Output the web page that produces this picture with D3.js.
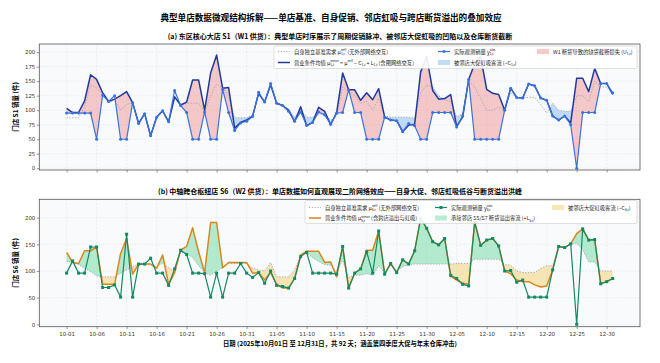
<!DOCTYPE html>
<meta charset="utf-8" />
<script src="https://d3js.org/d3.v7.min.js"></script>
<style>
  body { margin: 0; background: #fff; }
  text { font-family: "Noto Sans CJK SC", "DejaVu Sans", sans-serif; }
</style>
<div id="chart"></div>
<script>
  // ---- data ----
  const startDate = new Date(2025, 9, 1);
  const nDays = 92;

  // store S1
  const s1Self = [87, 87, 87, 106, 144, 138, 128, 114, 118, 100, 110, 113, 77, 94, 56, 88, 99, 80, 120, 108,
    112, 112, 112, 97, 125, 145, 138, 125, 87, 87, 87, 92, 128, 114, 143, 112, 108, 100, 88, 100,
    88, 88, 92, 95, 82, 90, 140, 133, 125, 112, 115, 100, 120, 90, 88, 88, 88, 88, 86, 130,
    143, 140, 125, 118, 115, 88, 95, 150, 140, 120, 100, 100, 105, 100, 130, 122, 122, 122, 122, 110,
    95, 112, 100, 98, 98, 125, 125, 115, 150, 140, 140, 128];
  const s1Mean = [103, 96, 96, 116, 161, 153, 130, 115, 119, 125, 132, 113, 77, 94, 56, 88, 99, 80, 123, 109,
    114, 152, 152, 100, 164, 195, 138, 139, 69, 79, 83, 90, 129, 114, 144, 112, 108, 100, 80, 106,
    73, 79, 105, 98, 75, 96, 164, 135, 135, 117, 130, 118, 137, 88, 83, 82, 63, 74, 76, 166,
    192, 134, 119, 120, 127, 72, 88, 153, 180, 192, 136, 129, 127, 100, 138, 122, 121, 145, 142, 121,
    117, 90, 83, 90, 78, 155, 155, 132, 172, 146, 146, 127];
  const s1Obs = [95, 95, 95, 95, 95, 50, 126, 115, 125, 50, 50, 113, 77, 94, 56, 88, 99, 80, 134, 108,
    96, 50, 50, 97, 50, 50, 136, 96, 65, 78, 81, 89, 131, 114, 146, 112, 108, 98, 81, 97,
    74, 79, 97, 92, 76, 95, 96, 135, 96, 96, 50, 50, 50, 88, 83, 82, 63, 77, 73, 50,
    50, 96, 96, 96, 96, 71, 90, 153, 50, 50, 50, 50, 50, 100, 138, 122, 121, 145, 142, 121,
    117, 90, 83, 90, 75, 0, 96, 96, 96, 146, 146, 130];

  // store S6
  const s6Self = [118, 116, 112, 105, 99, 91, 89, 89, 89, 96, 102, 108, 113, 113, 113, 108, 115, 106, 100, 135,
    133, 125, 110, 97, 92, 100, 106, 114, 114, 114, 114, 105, 102, 100, 116, 89, 89, 89, 102, 128,
    134, 125, 118, 112, 111, 100, 120, 88, 92, 92, 95, 92, 110, 96, 112, 100, 108, 112, 113, 113,
    113, 113, 113, 113, 113, 114, 114, 114, 122, 122, 122, 122, 122, 112, 111, 100, 97, 97, 97, 105,
    110, 110, 146, 144, 151, 152, 140, 117, 117, 100, 100, 100];
  const s6Mean = [135, 116, 114, 138, 138, 145, 75, 75, 75, 133, 161, 94, 113, 113, 113, 105, 130, 75, 97, 139,
    146, 181, 136, 97, 191, 191, 106, 116, 116, 116, 116, 96, 97, 83, 97, 75, 68, 68, 86, 130,
    137, 137, 137, 116, 117, 89, 146, 68, 96, 104, 139, 139, 175, 94, 114, 97, 121, 113, 138, 199,
    180, 155, 149, 161, 90, 83, 77, 75, 192, 148, 158, 161, 147, 100, 95, 83, 80, 80, 74, 70,
    72, 102, 146, 144, 151, 170, 179, 158, 159, 76, 80, 86];
  const s6Obs = [96, 119, 96, 96, 145, 145, 69, 69, 74, 51, 169, 51, 113, 113, 124, 96, 96, 73, 104, 139,
    131, 96, 96, 95, 51, 96, 51, 96, 96, 114, 96, 88, 97, 77, 100, 73, 71, 68, 86, 127,
    135, 96, 96, 96, 96, 94, 146, 68, 96, 104, 136, 96, 175, 94, 114, 97, 121, 113, 138, 199,
    180, 155, 149, 161, 92, 86, 75, 72, 192, 148, 158, 161, 147, 100, 101, 79, 83, 51, 51, 51,
    51, 102, 146, 144, 151, 0, 179, 158, 159, 76, 80, 86];

  const dates = d3.range(nDays).map((i) => d3.timeDay.offset(startDate, i));
  const tickIdx = d3.range(0, nDays, 5);
  const fmt = d3.timeFormat("%m-%d");

  const width = 660;
  const height = 363;
  const left = 39.3;
  const right = 640;

  const svg = d3.select("#chart").append("svg").attr("width", width).attr("height", height);

  const x = d3.scaleLinear().domain([-4.55, nDays - 1 + 4.55]).range([left, right]);

  // main title
  svg.append("text")
    .attr("x", 331).attr("y", 21)
    .attr("text-anchor", "middle")
    .style("font-size", "8.6px").style("font-weight", "bold")
    .text("典型单店数据微观结构拆解——单店基准、自身促销、邻店虹吸与跨店断货溢出的叠加效应");

  // builds points where top > bottom, adding the crossing points
  function fillPoints(top, bottom) {
    const pts = [];
    for (let i = 0; i < top.length; i++) {
      pts.push({ i: i, a: top[i], b: bottom[i] });
      if (i < top.length - 1) {
        const d0 = top[i] - bottom[i];
        const d1 = top[i + 1] - bottom[i + 1];
        if (d0 * d1 < 0) {
          const t = d0 / (d0 - d1);
          const v = bottom[i] + t * (bottom[i + 1] - bottom[i]);
          pts.push({ i: i + t, a: v, b: v });
        }
      }
    }
    return pts;
  }

  // text with math pieces: [str] plain, [str,"sub"], [str,"sup"], [sup,"stack",sub]
  function richText(g, xx, yy, parts, size) {
    const t = g.append("text").attr("x", xx).attr("y", yy)
      .style("font-size", size + "px").attr("fill", "#222");
    const small = size * 0.62 + "px";
    let shift = 0;
    let pendingDx = 0;
    parts.forEach((p) => {
      const mode = p[1];
      if (mode === "stack") {
        const a = t.append("tspan").text(p[0]).style("font-size", small)
          .attr("dy", -2.3 - shift).attr("dx", pendingDx);
        const la = a.node().getComputedTextLength();
        const b = t.append("tspan").text(p[2]).style("font-size", small)
          .attr("dy", 4.2).attr("dx", -la);
        const lb = b.node().getComputedTextLength();
        shift = 1.9;
        pendingDx = Math.max(0, la - lb);
        return;
      }
      const target = mode === "sup" ? -2.3 : mode === "sub" ? 1.9 : 0;
      const s = t.append("tspan").text(p[0]).attr("dy", target - shift).attr("dx", pendingDx);
      if (mode) s.style("font-size", small);
      shift = target;
      pendingDx = 0;
    });
    return t;
  }

  function drawPanel(cfg) {
    const y = d3.scaleLinear().domain(cfg.yDomain).range([cfg.bottom, cfg.top]);
    const g = svg.append("g");

    // subtitle
    g.append("text")
      .attr("x", 340).attr("y", cfg.top - 5.5)
      .attr("text-anchor", "middle")
      .style("font-size", "7px").style("font-weight", "bold")
      .text(cfg.subtitle);

    g.append("rect")
      .attr("x", left).attr("y", cfg.top)
      .attr("width", right - left).attr("height", cfg.bottom - cfg.top)
      .attr("fill", "#f8fafc");

    const clipId = "clip" + cfg.key;
    g.append("clipPath").attr("id", clipId).append("rect")
      .attr("x", left).attr("y", cfg.top)
      .attr("width", right - left).attr("height", cfg.bottom - cfg.top);

    // grid
    g.append("g").selectAll("line").data(cfg.yTicks).join("line")
      .attr("x1", left).attr("x2", right)
      .attr("y1", (d) => y(d)).attr("y2", (d) => y(d))
      .attr("stroke", "#dde2e8").attr("stroke-width", 0.5).attr("stroke-dasharray", "2,1.5");
    g.append("g").selectAll("line").data(tickIdx).join("line")
      .attr("x1", (d) => x(d)).attr("x2", (d) => x(d))
      .attr("y1", cfg.top).attr("y2", cfg.bottom)
      .attr("stroke", "#dde2e8").attr("stroke-width", 0.5).attr("stroke-dasharray", "2,1.5");

    const plot = g.append("g").attr("clip-path", "url(#" + clipId + ")");

    const area = d3.area()
      .x((p) => x(p.i))
      .y0((p) => y(p.b))
      .y1((p) => y(Math.max(p.a, p.b)));

    cfg.fills.forEach((f) => {
      plot.append("path")
        .datum(fillPoints(f.top, f.bottom))
        .attr("d", area)
        .attr("fill", f.color)
        .attr("fill-opacity", f.opacity);
    });

    const line = d3.line().x((d, i) => x(i)).y((d) => y(d));

    plot.append("path").datum(cfg.self).attr("d", line)
      .attr("fill", "none").attr("stroke", "#9aa3ad").attr("stroke-width", 0.9)
      .attr("stroke-dasharray", "1.2,1.6");
    plot.append("path").datum(cfg.mean).attr("d", line)
      .attr("fill", "none").attr("stroke", cfg.meanColor).attr("stroke-width", 1.5)
      .attr("stroke-linejoin", "round");
    plot.append("path").datum(cfg.obs).attr("d", line)
      .attr("fill", "none").attr("stroke", cfg.obsColor).attr("stroke-width", 1.2)
      .attr("stroke-linejoin", "round");

    if (cfg.marker === "circle") {
      plot.append("g").selectAll("circle").data(cfg.obs).join("circle")
        .attr("cx", (d, i) => x(i)).attr("cy", (d) => y(d)).attr("r", 1.5)
        .attr("fill", cfg.obsColor);
    } else {
      plot.append("g").selectAll("rect").data(cfg.obs).join("rect")
        .attr("x", (d, i) => x(i) - 1.5).attr("y", (d) => y(d) - 1.5)
        .attr("width", 3).attr("height", 3)
        .attr("fill", cfg.obsColor);
    }

    // frame
    g.append("rect")
      .attr("x", left).attr("y", cfg.top)
      .attr("width", right - left).attr("height", cfg.bottom - cfg.top)
      .attr("fill", "none").attr("stroke", "#555").attr("stroke-width", 0.8);

    // axes
    const yAxis = g.append("g").attr("transform", "translate(" + left + ",0)")
      .call(d3.axisLeft(y).tickValues(cfg.yTicks).tickSize(2.5).tickPadding(1.5));
    const xAxis = g.append("g").attr("transform", "translate(0," + cfg.bottom + ")")
      .call(d3.axisBottom(x).tickValues(tickIdx).tickSize(2.5).tickPadding(3)
        .tickFormat((i) => (cfg.showX ? fmt(dates[i]) : "")));
    [yAxis, xAxis].forEach((ax) => {
      ax.select(".domain").remove();
      ax.selectAll("line").attr("stroke", "#555").attr("stroke-width", 0.6);
      ax.selectAll("text").attr("fill", "#333").style("font-size", "5.4px")
        .style("font-family", "DejaVu Sans, sans-serif");
    });

    g.append("text")
      .attr("transform", "translate(18," + (cfg.top + cfg.bottom) / 2 + ") rotate(-90)")
      .attr("text-anchor", "middle")
      .style("font-size", "6.5px").style("font-weight", "bold")
      .text(cfg.yLabel);

    // legend
    const L = cfg.legend;
    const lg = g.append("g");
    lg.append("rect")
      .attr("x", L.x).attr("y", L.y).attr("width", L.w).attr("height", L.h)
      .attr("rx", 1.5)
      .attr("fill", "#fff").attr("fill-opacity", 0.9)
      .attr("stroke", "#ccc").attr("stroke-width", 0.6);
    L.items.forEach((it) => {
      const sx = it.x, sy = it.y;
      if (it.type === "dot") {
        lg.append("line").attr("x1", sx).attr("x2", sx + 12).attr("y1", sy).attr("y2", sy)
          .attr("stroke", "#9aa3ad").attr("stroke-width", 0.9).attr("stroke-dasharray", "1.2,1.6");
      } else if (it.type === "line") {
        lg.append("line").attr("x1", sx).attr("x2", sx + 12).attr("y1", sy).attr("y2", sy)
          .attr("stroke", it.color).attr("stroke-width", 1.5);
      } else if (it.type === "marker") {
        lg.append("line").attr("x1", sx).attr("x2", sx + 12).attr("y1", sy).attr("y2", sy)
          .attr("stroke", it.color).attr("stroke-width", 1.2);
        if (cfg.marker === "circle") {
          lg.append("circle").attr("cx", sx + 6).attr("cy", sy).attr("r", 1.5).attr("fill", it.color);
        } else {
          lg.append("rect").attr("x", sx + 4.5).attr("y", sy - 1.5).attr("width", 3).attr("height", 3).attr("fill", it.color);
        }
      } else {
        lg.append("rect").attr("x", sx).attr("y", sy - 2.5).attr("width", 12).attr("height", 5)
          .attr("fill", it.color).attr("fill-opacity", it.opacity);
      }
      richText(lg, sx + 16, sy + 2, it.parts, 5.3);
    });
  }

  // panel (a)
  drawPanel({
    key: "a",
    top: 44, bottom: 170,
    yDomain: [-3, 214],
    yTicks: d3.range(0, 201, 25),
    subtitle: "(a) 东区核心大店 S1（W1 供货）：典型单店时序展示了周期促销脉冲、被邻店大促虹吸的凹陷以及仓库断货截断",
    yLabel: "门店 S1 销量 (件)",
    self: s1Self, mean: s1Mean, obs: s1Obs,
    meanColor: "#1f3a9e", obsColor: "#3a72dc", marker: "circle",
    showX: false,
    fills: [
      { top: s1Mean, bottom: s1Obs, color: "#f08a8a", opacity: 0.45 },
      { top: s1Self, bottom: s1Mean, color: "#8fbfea", opacity: 0.55 }
    ],
    legend: {
      x: 274, y: 46, w: 363, h: 22.5,
      items: [
        { type: "dot", x: 278, y: 51.5, parts: [["自身独立基准需求 μ"], ["self", "stack", "1,t"], [" (无外部网络交互)"]] },
        { type: "line", color: "#1f3a9e", x: 278, y: 62.5, parts: [["营业条件均值 μ"], ["mean", "stack", "1,t"], [" = μ"], ["self", "sup"], [" − C"], ["1,t", "sub"], [" + L"], ["1,t", "sub"], [" (含图网络交互)"]] },
        { type: "marker", color: "#3a72dc", x: 438, y: 51.5, parts: [["实际观测销量 y"], ["obs", "stack", "1,t"]] },
        { type: "patch", color: "#8fbfea", opacity: 0.55, x: 438, y: 62.5, parts: [["被邻店大促虹吸客流 (−C"], ["1,t", "sub"], [")"]] },
        { type: "patch", color: "#f08a8a", opacity: 0.45, x: 537, y: 51.5, parts: [["W1 断货导致的缺货截断损失 (U"], ["1,t", "sub"], [")"]] }
      ]
    }
  });

  // panel (b)
  drawPanel({
    key: "b",
    top: 199.3, bottom: 326.7,
    yDomain: [-4.5, 234.5],
    yTicks: d3.range(0, 201, 50),
    subtitle: "(b) 中轴跨仓枢纽店 S6（W2 供货）：单店数据如何直观展现二阶网络效应——自身大促、邻店虹吸低谷与断货溢出洪峰",
    yLabel: "门店 S6 销量 (件)",
    self: s6Self, mean: s6Mean, obs: s6Obs,
    meanColor: "#d9861a", obsColor: "#138a63", marker: "square",
    showX: true,
    fills: [
      { top: s6Mean, bottom: s6Self, color: "#5fd896", opacity: 0.45 },
      { top: s6Self, bottom: s6Mean, color: "#f4d27a", opacity: 0.55 }
    ],
    legend: {
      x: 305, y: 200.5, w: 332, h: 23,
      items: [
        { type: "dot", x: 309, y: 207.5, parts: [["自身独立基准需求 μ"], ["self", "stack", "6,t"], [" (无外部网络交互)"]] },
        { type: "line", color: "#d9861a", x: 309, y: 218, parts: [["营业条件均值 μ"], ["mean", "stack", "6,t"], [" (含跨店溢出与虹吸)"]] },
        { type: "marker", color: "#138a63", x: 435, y: 207.5, parts: [["实际观测销量 y"], ["obs", "stack", "6,t"]] },
        { type: "patch", color: "#5fd896", opacity: 0.45, x: 435, y: 218, parts: [["承接邻店 S5/S7 断货溢出客流 (+L"], ["6,t", "sub"], [")"]] },
        { type: "patch", color: "#f4d27a", opacity: 0.55, x: 552, y: 207.5, parts: [["被邻店大促虹吸客流 (−C"], ["6,t", "sub"], [")"]] }
      ]
    }
  });

  svg.append("text")
    .attr("x", 340).attr("y", 346)
    .attr("text-anchor", "middle")
    .style("font-size", "6.3px").style("font-weight", "bold")
    .text("日期 (2025年10月01日 至 12月31日，共 92 天；涵盖第四季度大促与年末仓库冲击)");
</script>
